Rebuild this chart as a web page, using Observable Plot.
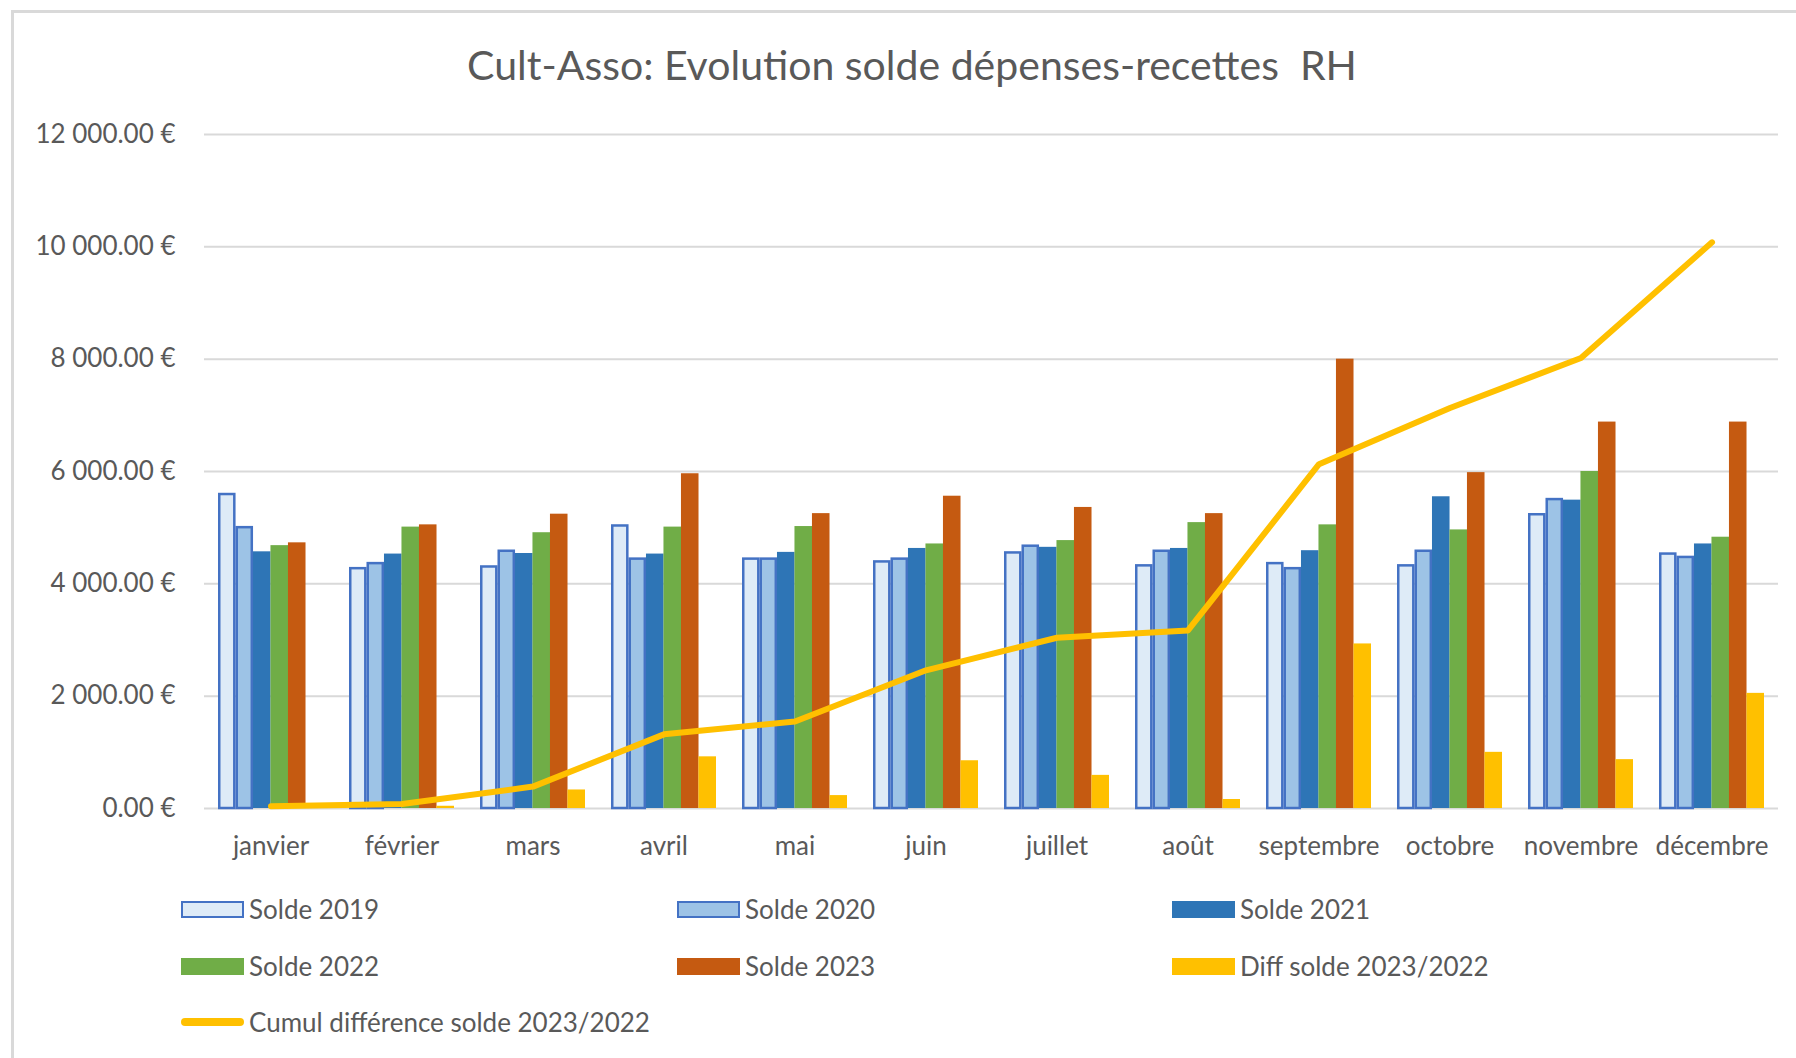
<!DOCTYPE html>
<html>
<head>
<meta charset="utf-8">
<script src="https://cdn.jsdelivr.net/npm/d3@7"></script>
<script src="https://cdn.jsdelivr.net/npm/@observablehq/plot@0.6"></script>
<style>
  body { margin: 0; background: #fff; font-family: Lato, "Noto Sans", sans-serif; color: #595959; }
  #root { position: relative; width: 1796px; height: 1058px; overflow: hidden; }
  #frame { position: absolute; left: 11px; top: 10px; width: 2000px; height: 2000px;
           border-left: 3px solid #D9D9D9; border-top: 3px solid #D9D9D9; }
  #title { position: absolute; left: 0; top: 40px; width: 1824px; text-align: center;
           font-size: 41px; color: #595959; white-space: pre; }
  #chart { position: absolute; left: 0; top: 100px; }
  .leg { position: absolute; display: flex; align-items: center; font-size: 26px; color: #595959; white-space: nowrap; }
  .sw { display: inline-block; width: 63px; height: 17px; margin-right: 5px; box-sizing: border-box; }
</style>
</head>
<body>
<div id="root">
  <div id="frame"></div>
  <div id="title">Cult-Asso: Evolution solde dépenses-recettes  RH</div>
  <div id="chart"></div>
  <div id="legend"></div>
</div>
<script>
const months = ["janvier","février","mars","avril","mai","juin","juillet","août","septembre","octobre","novembre","décembre"];
const solde2019 = [5590, 4270, 4300, 5030, 4440, 4390, 4550, 4320, 4360, 4320, 5230, 4530];
const solde2020 = [5000, 4360, 4580, 4440, 4440, 4440, 4670, 4580, 4270, 4580, 5500, 4470];
const solde2021 = [4570, 4530, 4540, 4530, 4560, 4630, 4650, 4630, 4590, 5550, 5490, 4710];
const solde2022 = [4680, 5010, 4910, 5010, 5020, 4710, 4770, 5090, 5050, 4960, 6000, 4830];
const solde2023 = [4730, 5050, 5240, 5960, 5250, 5560, 5360, 5250, 8000, 5980, 6880, 6880];
const diffSolde = [50, 40, 330, 920, 230, 850, 590, 160, 2930, 1000, 870, 2050];
const cumulDiff = [40, 80, 390, 1320, 1550, 2460, 3040, 3170, 6130, 7130, 8020, 10080];
const yTicks = [0, 2000, 4000, 6000, 8000, 10000, 12000];

const seriesDefs = [
  {name: "Solde 2019", values: solde2019, fill: "#DEEBF7", stroke: "#4472C4"},
  {name: "Solde 2020", values: solde2020, fill: "#9DC3E6", stroke: "#4472C4"},
  {name: "Solde 2021", values: solde2021, fill: "#2E75B6", stroke: null},
  {name: "Solde 2022", values: solde2022, fill: "#70AD47", stroke: null},
  {name: "Solde 2023", values: solde2023, fill: "#C55A11", stroke: null},
  {name: "Diff solde 2023/2022", values: diffSolde, fill: "#FFC000", stroke: null}
];
const lineColor = "#FFC000";

const W = 1796, H = 768, mL = 204, mR = 18, mT = 34, mB = 60;
const padIn = 0.2, padOut = 0.1;
const step = (W - mL - mR) / (months.length - padIn + 2 * padOut);
const sub = step * (1 - padIn) / seriesDefs.length;

const fmt = d => d3.format(",.2f")(d).replace(/,/g, " ") + " €";

const barMarks = seriesDefs.map((s, k) => Plot.barY(
  months.map((m, i) => ({month: m, value: s.values[i]})),
  {x: "month", y: "value", fill: s.fill,
   stroke: s.stroke || "none", strokeWidth: s.stroke ? 2.5 : 0,
   insetLeft: k * sub + (s.stroke ? 1.25 : 0), insetRight: (seriesDefs.length - 1 - k) * sub + (s.stroke ? 1.25 : 0)}
));

const chart = Plot.plot({
  width: W, height: H, marginLeft: mL, marginRight: mR, marginTop: mT, marginBottom: mB,
  style: {fontFamily: "Lato, 'Noto Sans', sans-serif", fontSize: "26px", color: "#595959", background: "transparent"},
  x: {domain: months, paddingInner: padIn, paddingOuter: padOut, label: null},
  y: {domain: [0, 12000], label: null},
  marks: [
    Plot.ruleY(yTicks, {stroke: "#D9D9D9", strokeWidth: 2}),
    ...barMarks,
    Plot.line(months.map((m, i) => ({month: m, value: cumulDiff[i]})),
      {x: "month", y: "value", stroke: lineColor, strokeWidth: 6, strokeLinejoin: "round", strokeLinecap: "round"}),
    Plot.axisY({ticks: yTicks, tickFormat: fmt, tickSize: 0, tickPadding: 29, fontSize: 26, label: null}),
    Plot.axisX({tickSize: 0, tickPadding: 28, fontSize: 26, label: null})
  ]
});
document.getElementById("chart").appendChild(chart);

// Legend
const legend = document.getElementById("legend");
const cols = [181, 677, 1172];
const rows = [909, 966, 1022];
const items = seriesDefs.map(s => ({...s, type: "bar"})).concat([{name: "Cumul différence solde 2023/2022", fill: lineColor, type: "line"}]);
items.forEach((it, idx) => {
  const r = Math.floor(idx / 3), c = idx % 3;
  const d = document.createElement("div");
  d.className = "leg";
  d.style.left = cols[c] + "px";
  d.style.top = (rows[r] - 18) + "px";
  d.style.height = "36px";
  const sw = document.createElement("span");
  sw.className = "sw";
  sw.style.background = it.fill;
  if (it.stroke) sw.style.border = "2.5px solid " + it.stroke;
  if (it.type === "line") { sw.style.height = "8px"; sw.style.borderRadius = "4px"; }
  d.appendChild(sw);
  d.appendChild(document.createTextNode(it.name));
  legend.appendChild(d);
});
</script>
</body>
</html>
